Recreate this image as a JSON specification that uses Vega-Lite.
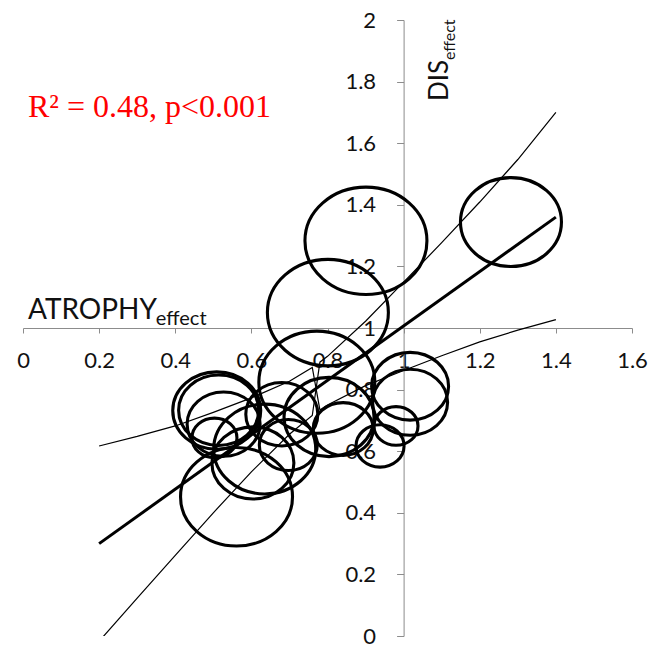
{
  "$schema": "https://vega.github.io/schema/vega-lite/v6.json",
  "width": 609,
  "height": 616,
  "autosize": {"type": "none"},
  "padding": {"left": 23, "top": 20, "right": 19, "bottom": 12},
  "background": "white",
  "config": {"view": {"stroke": null}},
  "datasets": {
    "band": [
      {"series": "a", "x": 0.2, "y": -0.017},
      {"series": "a", "x": 0.3, "y": 0.123},
      {"series": "a", "x": 0.4, "y": 0.262},
      {"series": "a", "x": 0.5, "y": 0.4},
      {"series": "a", "x": 0.6, "y": 0.533},
      {"series": "a", "x": 0.7, "y": 0.655},
      {"series": "a", "x": 0.76, "y": 0.716},
      {"series": "a", "x": 0.78, "y": 0.889},
      {"series": "a", "x": 0.8, "y": 0.908},
      {"series": "a", "x": 0.9, "y": 1.022},
      {"series": "a", "x": 1.0, "y": 1.149},
      {"series": "a", "x": 1.1, "y": 1.277},
      {"series": "a", "x": 1.2, "y": 1.409},
      {"series": "a", "x": 1.3, "y": 1.547},
      {"series": "a", "x": 1.4, "y": 1.7},
      {"series": "b", "x": 0.2, "y": 0.617},
      {"series": "b", "x": 0.3, "y": 0.648},
      {"series": "b", "x": 0.4, "y": 0.682},
      {"series": "b", "x": 0.5, "y": 0.726},
      {"series": "b", "x": 0.6, "y": 0.773},
      {"series": "b", "x": 0.7, "y": 0.827},
      {"series": "b", "x": 0.76, "y": 0.872},
      {"series": "b", "x": 0.78, "y": 0.734},
      {"series": "b", "x": 0.8, "y": 0.75},
      {"series": "b", "x": 0.9, "y": 0.813},
      {"series": "b", "x": 1.0, "y": 0.862},
      {"series": "b", "x": 1.1, "y": 0.91},
      {"series": "b", "x": 1.2, "y": 0.955},
      {"series": "b", "x": 1.3, "y": 0.993},
      {"series": "b", "x": 1.4, "y": 1.027}
    ],
    "fit": [
      {"x": 0.2, "y": 0.3},
      {"x": 1.4, "y": 1.36}
    ],
    "bubbles": [
      {"x": 0.901, "y": 1.283, "n": 99.2},
      {"x": 0.801, "y": 1.05, "n": 97.6},
      {"x": 1.282, "y": 1.344, "n": 68.0},
      {"x": 0.772, "y": 0.824, "n": 89.7},
      {"x": 1.017, "y": 0.811, "n": 39.5},
      {"x": 1.017, "y": 0.759, "n": 37.5},
      {"x": 0.98, "y": 0.682, "n": 12.9},
      {"x": 0.938, "y": 0.617, "n": 15.4},
      {"x": 0.804, "y": 0.711, "n": 54.0},
      {"x": 0.841, "y": 0.672, "n": 24.0},
      {"x": 0.509, "y": 0.732, "n": 51.6},
      {"x": 0.514, "y": 0.733, "n": 42.7},
      {"x": 0.527, "y": 0.688, "n": 35.5},
      {"x": 0.503, "y": 0.643, "n": 13.5},
      {"x": 0.561, "y": 0.452, "n": 83.6},
      {"x": 0.635, "y": 0.607, "n": 69.4},
      {"x": 0.604, "y": 0.562, "n": 44.8},
      {"x": 0.68, "y": 0.72, "n": 34.6},
      {"x": 0.697, "y": 0.62, "n": 22.4}
    ]
  },
  "layer": [
    {
      "data": {"name": "band"},
      "mark": {"type": "line", "color": "black", "strokeWidth": 1.2, "clip": true},
      "encoding": {
        "x": {
          "field": "x", "type": "quantitative",
          "scale": {"domain": [0, 1.6], "nice": false, "zero": false},
          "axis": {
            "orient": "bottom", "offset": -308,
            "values": [0, 0.2, 0.4, 0.6, 0.8, 1, 1.2, 1.4, 1.6],
            "format": ".1~f", "title": null, "grid": false,
            "labelFont": "Lato", "labelFontSize": 22, "labelColor": "#111111",
            "labelPadding": 17, "labelFlush": false, "labelOverlap": false, "labelBound": false,
            "tickSize": 5, "tickColor": "#8c8c8c", "tickWidth": 1,
            "domainColor": "#8c8c8c", "domainWidth": 1
          }
        },
        "y": {
          "field": "y", "type": "quantitative",
          "scale": {"domain": [0, 2], "nice": false, "zero": false},
          "axis": {
            "orient": "left", "offset": -380.6,
            "values": [0, 0.2, 0.4, 0.6, 0.8, 1, 1.2, 1.4, 1.6, 1.8, 2],
            "format": ".1~f", "title": null, "grid": false,
            "labelFont": "Lato", "labelFontSize": 22, "labelColor": "#111111",
            "labelPadding": 21, "labelFlush": false, "labelOverlap": false, "labelBound": false,
            "tickSize": 7, "tickColor": "#8c8c8c", "tickWidth": 1,
            "domainColor": "#8c8c8c", "domainWidth": 1
          }
        },
        "detail": {"field": "series", "type": "nominal"}
      }
    },
    {
      "data": {"name": "fit"},
      "mark": {"type": "line", "color": "black", "strokeWidth": 3},
      "encoding": {
        "x": {"field": "x", "type": "quantitative"},
        "y": {"field": "y", "type": "quantitative"}
      }
    },
    {
      "data": {"name": "bubbles"},
      "mark": {
        "type": "point", "filled": false, "fill": null, "stroke": "black", "strokeWidth": 3.1, "opacity": 1,
        "shape": "M-1,0A1,0.88,0,1,1,1,0A1,0.88,0,1,1,-1,0Z"
      },
      "encoding": {
        "x": {"field": "x", "type": "quantitative"},
        "y": {"field": "y", "type": "quantitative"},
        "size": {"field": "n", "type": "quantitative", "scale": {"type": "linear", "domain": [0, 100], "range": [0, 15000], "zero": true}, "legend": null}
      }
    },
    {
      "data": {"values": [{"x": 0.013, "y": 1.686, "label": "R² = 0.48, p<0.001"}]},
      "mark": {"type": "text", "align": "left", "baseline": "alphabetic", "font": "Liberation Serif", "fontSize": 32, "color": "#ff0000"},
      "encoding": {
        "x": {"field": "x", "type": "quantitative"},
        "y": {"field": "y", "type": "quantitative"},
        "text": {"field": "label"}
      }
    },
    {
      "data": {"values": [{"x": 0.013, "y": 1.028, "label": "ATROPHY"}]},
      "mark": {"type": "text", "align": "left", "baseline": "alphabetic", "font": "Lato", "fontSize": 28, "color": "#111111"},
      "encoding": {
        "x": {"field": "x", "type": "quantitative"},
        "y": {"field": "y", "type": "quantitative"},
        "text": {"field": "label"}
      }
    },
    {
      "data": {"values": [{"x": 0.349, "y": 1.011, "label": "effect"}]},
      "mark": {"type": "text", "align": "left", "baseline": "alphabetic", "font": "Lato", "fontSize": 20, "color": "#111111"},
      "encoding": {
        "x": {"field": "x", "type": "quantitative"},
        "y": {"field": "y", "type": "quantitative"},
        "text": {"field": "label"}
      }
    },
    {
      "data": {"values": [{"x": 1.1167, "y": 1.737, "label": "DIS"}]},
      "mark": {"type": "text", "align": "left", "baseline": "alphabetic", "angle": 270, "font": "Lato", "fontSize": 26, "color": "#111111"},
      "encoding": {
        "x": {"field": "x", "type": "quantitative"},
        "y": {"field": "y", "type": "quantitative"},
        "text": {"field": "label"}
      }
    },
    {
      "data": {"values": [{"x": 1.135, "y": 1.87, "label": "effect"}]},
      "mark": {"type": "text", "align": "left", "baseline": "alphabetic", "angle": 270, "font": "Lato", "fontSize": 16, "color": "#111111"},
      "encoding": {
        "x": {"field": "x", "type": "quantitative"},
        "y": {"field": "y", "type": "quantitative"},
        "text": {"field": "label"}
      }
    }
  ]
}
